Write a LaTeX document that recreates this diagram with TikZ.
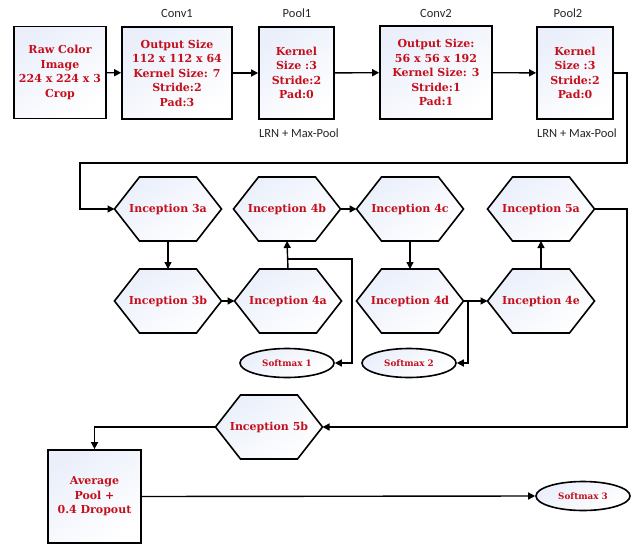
\documentclass[tikz,border=0pt]{standalone}
\usepackage{fontspec}
\setmainfont{DejaVu Serif}
\newfontfamily\labfont{Carlito}
\usetikzlibrary{shapes.geometric,arrows.meta,backgrounds}
\definecolor{txtred}{RGB}{196,16,28}
\definecolor{boxtop}{RGB}{234,239,250}
\newcommand{\hexoutline}[1]{%
  \path[hexline] (#1.west) -- ([xshift=25pt]#1.north west) -- ([xshift=-25pt]#1.north east)
    -- (#1.east) -- ([xshift=-25pt]#1.south east) -- ([xshift=25pt]#1.south west) -- cycle;}
\begin{document}
\begin{tikzpicture}[x=1pt,y=-1pt,
  redtext/.style={text=txtred, font=\bfseries\fontsize{11}{14.5}\selectfont, align=center},
  shaded/.style={top color=boxtop, bottom color=white, shading angle=35},
  box/.style={draw, line width=1.7pt, shaded, redtext, inner sep=0pt},
  hexa/.style={rectangle, minimum width=107pt, minimum height=64pt, inner sep=0pt, outer sep=0pt, redtext},
  hexline/.style={draw, line width=1.6pt, line join=miter, shaded},
  soft/.style={ellipse, draw, line width=1.6pt, shaded, minimum width=94pt, minimum height=29pt,
    inner sep=0pt, text=txtred, font=\bfseries\fontsize{8.8}{10}\selectfont},
  lab/.style={font=\labfont\fontsize{12.5}{14}\selectfont, text=black!85},
  arr/.style={draw, line width=1.4pt, -{Triangle[length=7pt,width=7pt]}}]
\useasboundingbox (0,0) rectangle (637,546);

% top row
\node[box, minimum width=92pt, minimum height=92pt] (raw) at (60,72.5) {Raw Color\\Image\\224 x 224 x 3\\Crop};
\node[box, minimum width=110pt, minimum height=92pt] (conv1) at (177,73) {Output Size\\112 x 112 x 64\\Kernel Size: 7\\Stride:2\\Pad:3};
\node[box, minimum width=75pt, minimum height=92pt] (pool1) at (296.5,73) {Kernel\\Size :3\\Stride:2\\Pad:0};
\node[box, minimum width=112pt, minimum height=93pt] (conv2) at (436,72.5) {Output Size:\\56 x 56 x 192\\Kernel Size: 3\\Stride:1\\Pad:1};
\node[box, minimum width=76pt, minimum height=92pt] (pool2) at (575,73) {Kernel\\Size :3\\Stride:2\\Pad:0};

\node[lab] (lconv1) at (177,13) {Conv1};
\node[lab] (lpool1) at (297,13) {Pool1};
\node[lab] (lconv2) at (436,13) {Conv2};
\node[lab] (lpool2) at (568,13) {Pool2};
\node[lab] (lrn1) at (299,133) {LRN + Max-Pool};
\node[lab] (lrn2) at (577,133) {LRN + Max-Pool};

% inception modules
\node[hexa] (i3a) at (168,209) {Inception 3a};
\node[hexa] (i4b) at (287,209) {Inception 4b};
\node[hexa] (i4c) at (410,209) {Inception 4c};
\node[hexa] (i5a) at (541,209) {Inception 5a};
\node[hexa] (i3b) at (168,301) {Inception 3b};
\node[hexa] (i4a) at (288,301) {Inception 4a};
\node[hexa] (i4d) at (410,301) {Inception 4d};
\node[hexa] (i4e) at (541,301) {Inception 4e};
\node[hexa] (i5b) at (269,427) {Inception 5b};
\begin{scope}[on background layer]
  \foreach \h in {i3a,i4b,i4c,i5a,i3b,i4a,i4d,i4e,i5b} {\hexoutline{\h}}
\end{scope}

\node[soft] (sm1) at (287,363) {Softmax 1};
\node[soft] (sm2) at (409,363) {Softmax 2};
\node[soft] (sm3) at (583,496) {Softmax 3};

\node[box, minimum width=93pt, minimum height=93pt] (avg) at (94.5,496.5) {Average\\Pool +\\0.4 Dropout};

% helper coordinates
\coordinate (r1) at (627,163);
\coordinate (r2) at (80,163);
\coordinate (j1) at (288,259);
\coordinate (k1) at (352,259);
\coordinate (j2) at (468,301);
\coordinate (r3) at (627,427);

% connectors
\draw[arr] (raw) -- (conv1);
\draw[arr] (conv1) -- (pool1);
\draw[arr] (pool1) -- (conv2);
\draw[arr] (conv2) -- (pool2);
\draw[arr] (pool2.east) -| (r1) -- (r2) |- (i3a.west);
\draw[arr] (i3a.south) -- (i3b.north);
\draw[arr] (i3b.east) -- (i4a.west);
\draw[arr] (i4a.north) -- (i4b.south);
\draw[arr] (j1) -- (k1) |- (sm1.east);
\draw[arr] (i4b.east) -- (i4c.west);
\draw[arr] (i4c.south) -- (i4d.north);
\draw[arr] (i4d.east) -- (i4e.west);
\draw[arr] (j2) |- (sm2.east);
\draw[arr] (i4e.north) -- (i5a.south);
\draw[arr] (i5a.east) -| (r3) -- (i5b.east);
\draw[arr] (i5b.west) -| (avg.north);
\draw[arr] (avg.east) -- (sm3.west);
\end{tikzpicture}
\end{document}
